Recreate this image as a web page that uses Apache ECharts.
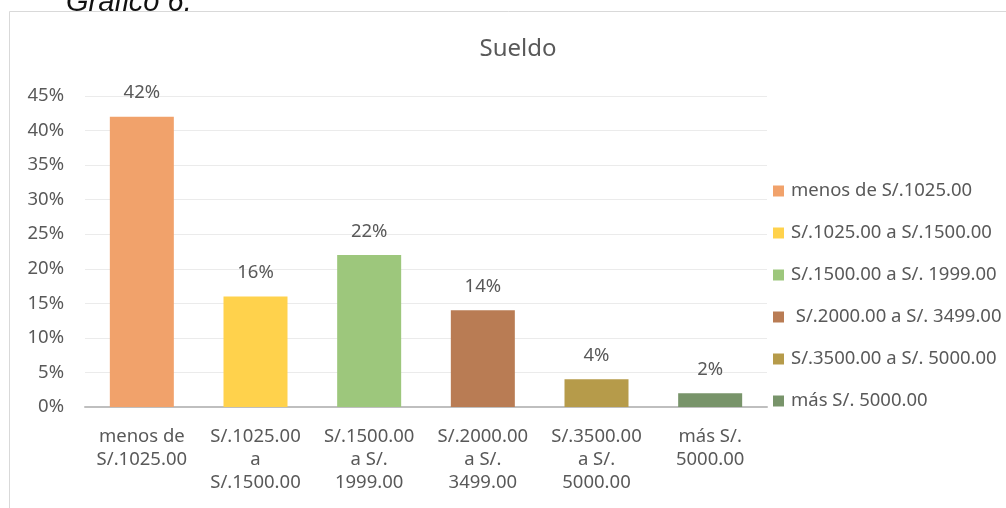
<!DOCTYPE html>
<html>
<head>
<meta charset="utf-8">
<script src="https://cdn.jsdelivr.net/npm/echarts@6/dist/echarts.min.js"></script>
<style>
  html, body { margin: 0; padding: 0; background: #fff; }
  #chart { width: 1006px; height: 508px; }
</style>
</head>
<body>
<div id="chart"></div>
<script>
// categorías (leyenda) y etiquetas del eje
const categories = [
  'menos de S/.1025.00',
  'S/.1025.00 a S/.1500.00',
  'S/.1500.00 a S/. 1999.00',
  ' S/.2000.00 a S/. 3499.00',
  'S/.3500.00 a S/. 5000.00',
  'más S/. 5000.00'
];
const tickLabels = [
  'menos de\nS/.1025.00',
  'S/.1025.00\na\nS/.1500.00',
  'S/.1500.00\na S/.\n1999.00',
  'S/.2000.00\na S/.\n3499.00',
  'S/.3500.00\na S/.\n5000.00',
  'más S/.\n5000.00'
];
const values = [42, 16, 22, 14, 4, 2];
const colors = ['#f1a26b', '#ffd24c', '#9dc77c', '#b97c54', '#b69b4a', '#78946a'];

const txt = '#595959';
const font = 'Noto Sans';
const fs = 18.5;

const chart = echarts.init(document.getElementById('chart'));

// una serie por categoría para que la leyenda muestre cada color
const series = categories.map((name, i) => ({
  name: name,
  type: 'bar',
  stack: 'total',
  barWidth: 64,
  itemStyle: { color: colors[i] },
  label: {
    show: true,
    position: 'top',
    distance: 14,
    formatter: p => p.value + '%',
    color: txt,
    fontFamily: font,
    fontSize: fs
  },
  data: values.map((v, j) => (j === i ? v : null))
}));

chart.setOption({
  animation: false,
  title: {
    text: 'Sueldo',
    left: 513,
    top: 32,
    textAlign: 'center',
    textStyle: { color: txt, fontFamily: font, fontSize: 24, fontWeight: 'normal' }
  },
  graphic: [
    {
      type: 'rect',
      shape: { x: 9.5, y: 11.5, width: 1010, height: 520 },
      style: { fill: 'none', stroke: '#d9d9d9', lineWidth: 1 },
      silent: true
    },
    {
      type: 'text',
      left: 66,
      top: -12,
      style: { text: 'Gráfico 6.', fill: '#111', font: 'italic 29px "Liberation Sans"' }
    }
  ],
  legend: {
    orient: 'vertical',
    left: 768,
    top: 175,
    itemWidth: 11,
    itemHeight: 11,
    itemGap: 20,
    icon: 'rect',
    data: categories,
    textStyle: { color: txt, fontFamily: font, fontSize: fs, lineHeight: 22, padding: [0, 0, 0, 2] }
  },
  grid: { left: 85, right: 239, top: 96, bottom: 101 },
  xAxis: {
    type: 'category',
    data: tickLabels,
    axisLine: { lineStyle: { color: '#bfbfbf', width: 2 } },
    axisTick: { show: false },
    axisLabel: { color: txt, fontFamily: font, fontSize: fs, lineHeight: 23, margin: 18, interval: 0 }
  },
  yAxis: {
    type: 'value',
    min: 0,
    max: 45,
    interval: 5,
    axisLine: { show: false },
    axisTick: { show: false },
    splitLine: { lineStyle: { color: '#ebebeb' } },
    axisLabel: { formatter: '{value}%', color: txt, fontFamily: font, fontSize: fs, margin: 21 }
  },
  series: series
});
</script>
</body>
</html>
